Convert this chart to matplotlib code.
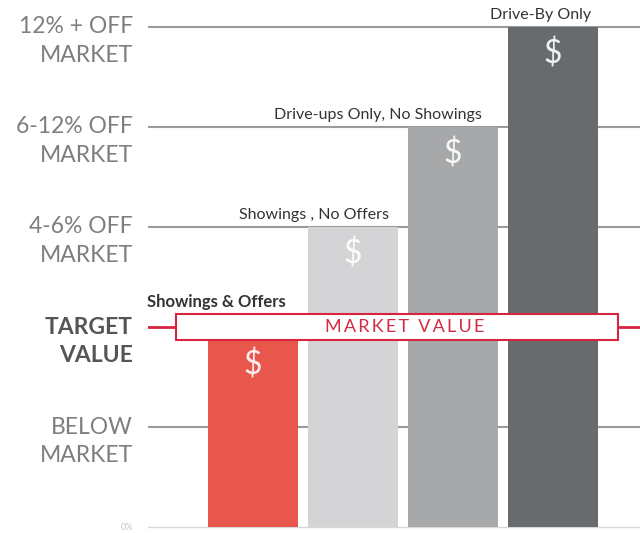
import numpy as np
import matplotlib
matplotlib.use("Agg")
import matplotlib.pyplot as plt
from matplotlib.patches import Rectangle

plt.rcParams["font.family"] = ["Lato", "DejaVu Sans"]

# data
bar_labels = ["Showings & Offers", "Showings , No Offers",
              "Drive-ups Only, No Showings", "Drive-By Only"]
bar_levels = [2, 3, 4, 5]
bar_colors = ["#E8564C", "#D4D4D7", "#A6A8AA", "#686B6D"]
level_top = ["0%", "BELOW", "TARGET", "4-6% OFF", "6-12% OFF", "12% + OFF"]
level_bottom = ["", "MARKET", "VALUE", "MARKET", "MARKET", "MARKET"]
target_level = 2

fig = plt.figure(figsize=(6.4, 5.33), dpi=100)
ax = fig.add_axes([148 / 640, 0, 1 - 148 / 640, 1])
ax.set_xlim(-1.05, 3.87)
ax.set_ylim(-0.06, 5.27)
ax.axis("off")

x = np.arange(len(bar_levels))

# gridlines
for lv in range(1, len(level_top)):
    if lv == target_level:
        continue
    ax.axhline(lv, color="#9A9A9A", lw=1.5, zorder=1)
ax.axhline(0, color="#D8D8D8", lw=1.0, zorder=1)

ax.bar(x, bar_levels, width=0.9, color=bar_colors, zorder=2)

# target line + box
ax.axhline(target_level, color="#D8243E", lw=2, zorder=3)
ax.add_patch(Rectangle((-0.77, target_level - 0.13), 4.42, 0.26,
                       facecolor="white", edgecolor="#D8243E", lw=1.5, zorder=4))
ax.text(1.52, target_level, "M\u2009A\u2009R\u2009K\u2009E\u2009T\u2009 \u2009V\u2009A\u2009L\u2009U\u2009E",
        color="#D42A44", fontsize=13, ha="center", va="center", zorder=5)

# level labels
for lv, (t, b) in enumerate(zip(level_top, level_bottom)):
    bold = lv == target_level
    col = "#555555" if bold else "#7E7E7E"
    wt = "bold" if bold else "normal"
    if lv == 0:
        ax.text(-1.2, 0.0, t, color="#C8C8C8", fontsize=6.5, ha="right", va="center",
                clip_on=False)
        continue
    ax.text(-1.2, lv, t, color=col, fontsize=16.5, ha="right", va="center",
            fontweight=wt, clip_on=False)
    ax.text(-1.2, lv - 0.29, b, color=col, fontsize=16.5, ha="right", va="center",
            fontweight=wt, clip_on=False)

# bar labels and dollar signs
label_x = [-0.37, 0.61, 1.25, 2.88]
for i, (lab, lv) in enumerate(zip(bar_labels, bar_levels)):
    bold = i == 0
    ax.text(label_x[i], lv + 0.12 + (0.13 if bold else 0), lab, ha="center", va="center",
            fontsize=12 if bold else 11.5, color="#333333",
            fontweight="bold" if bold else "normal", clip_on=False, zorder=6)
    dy = 0.38 if i == 0 else 0.27
    ax.text(i, lv - dy, "$", ha="center", va="center", fontsize=23,
            color="white", alpha=0.9, zorder=3)

fig.savefig("out.png", dpi=100)
